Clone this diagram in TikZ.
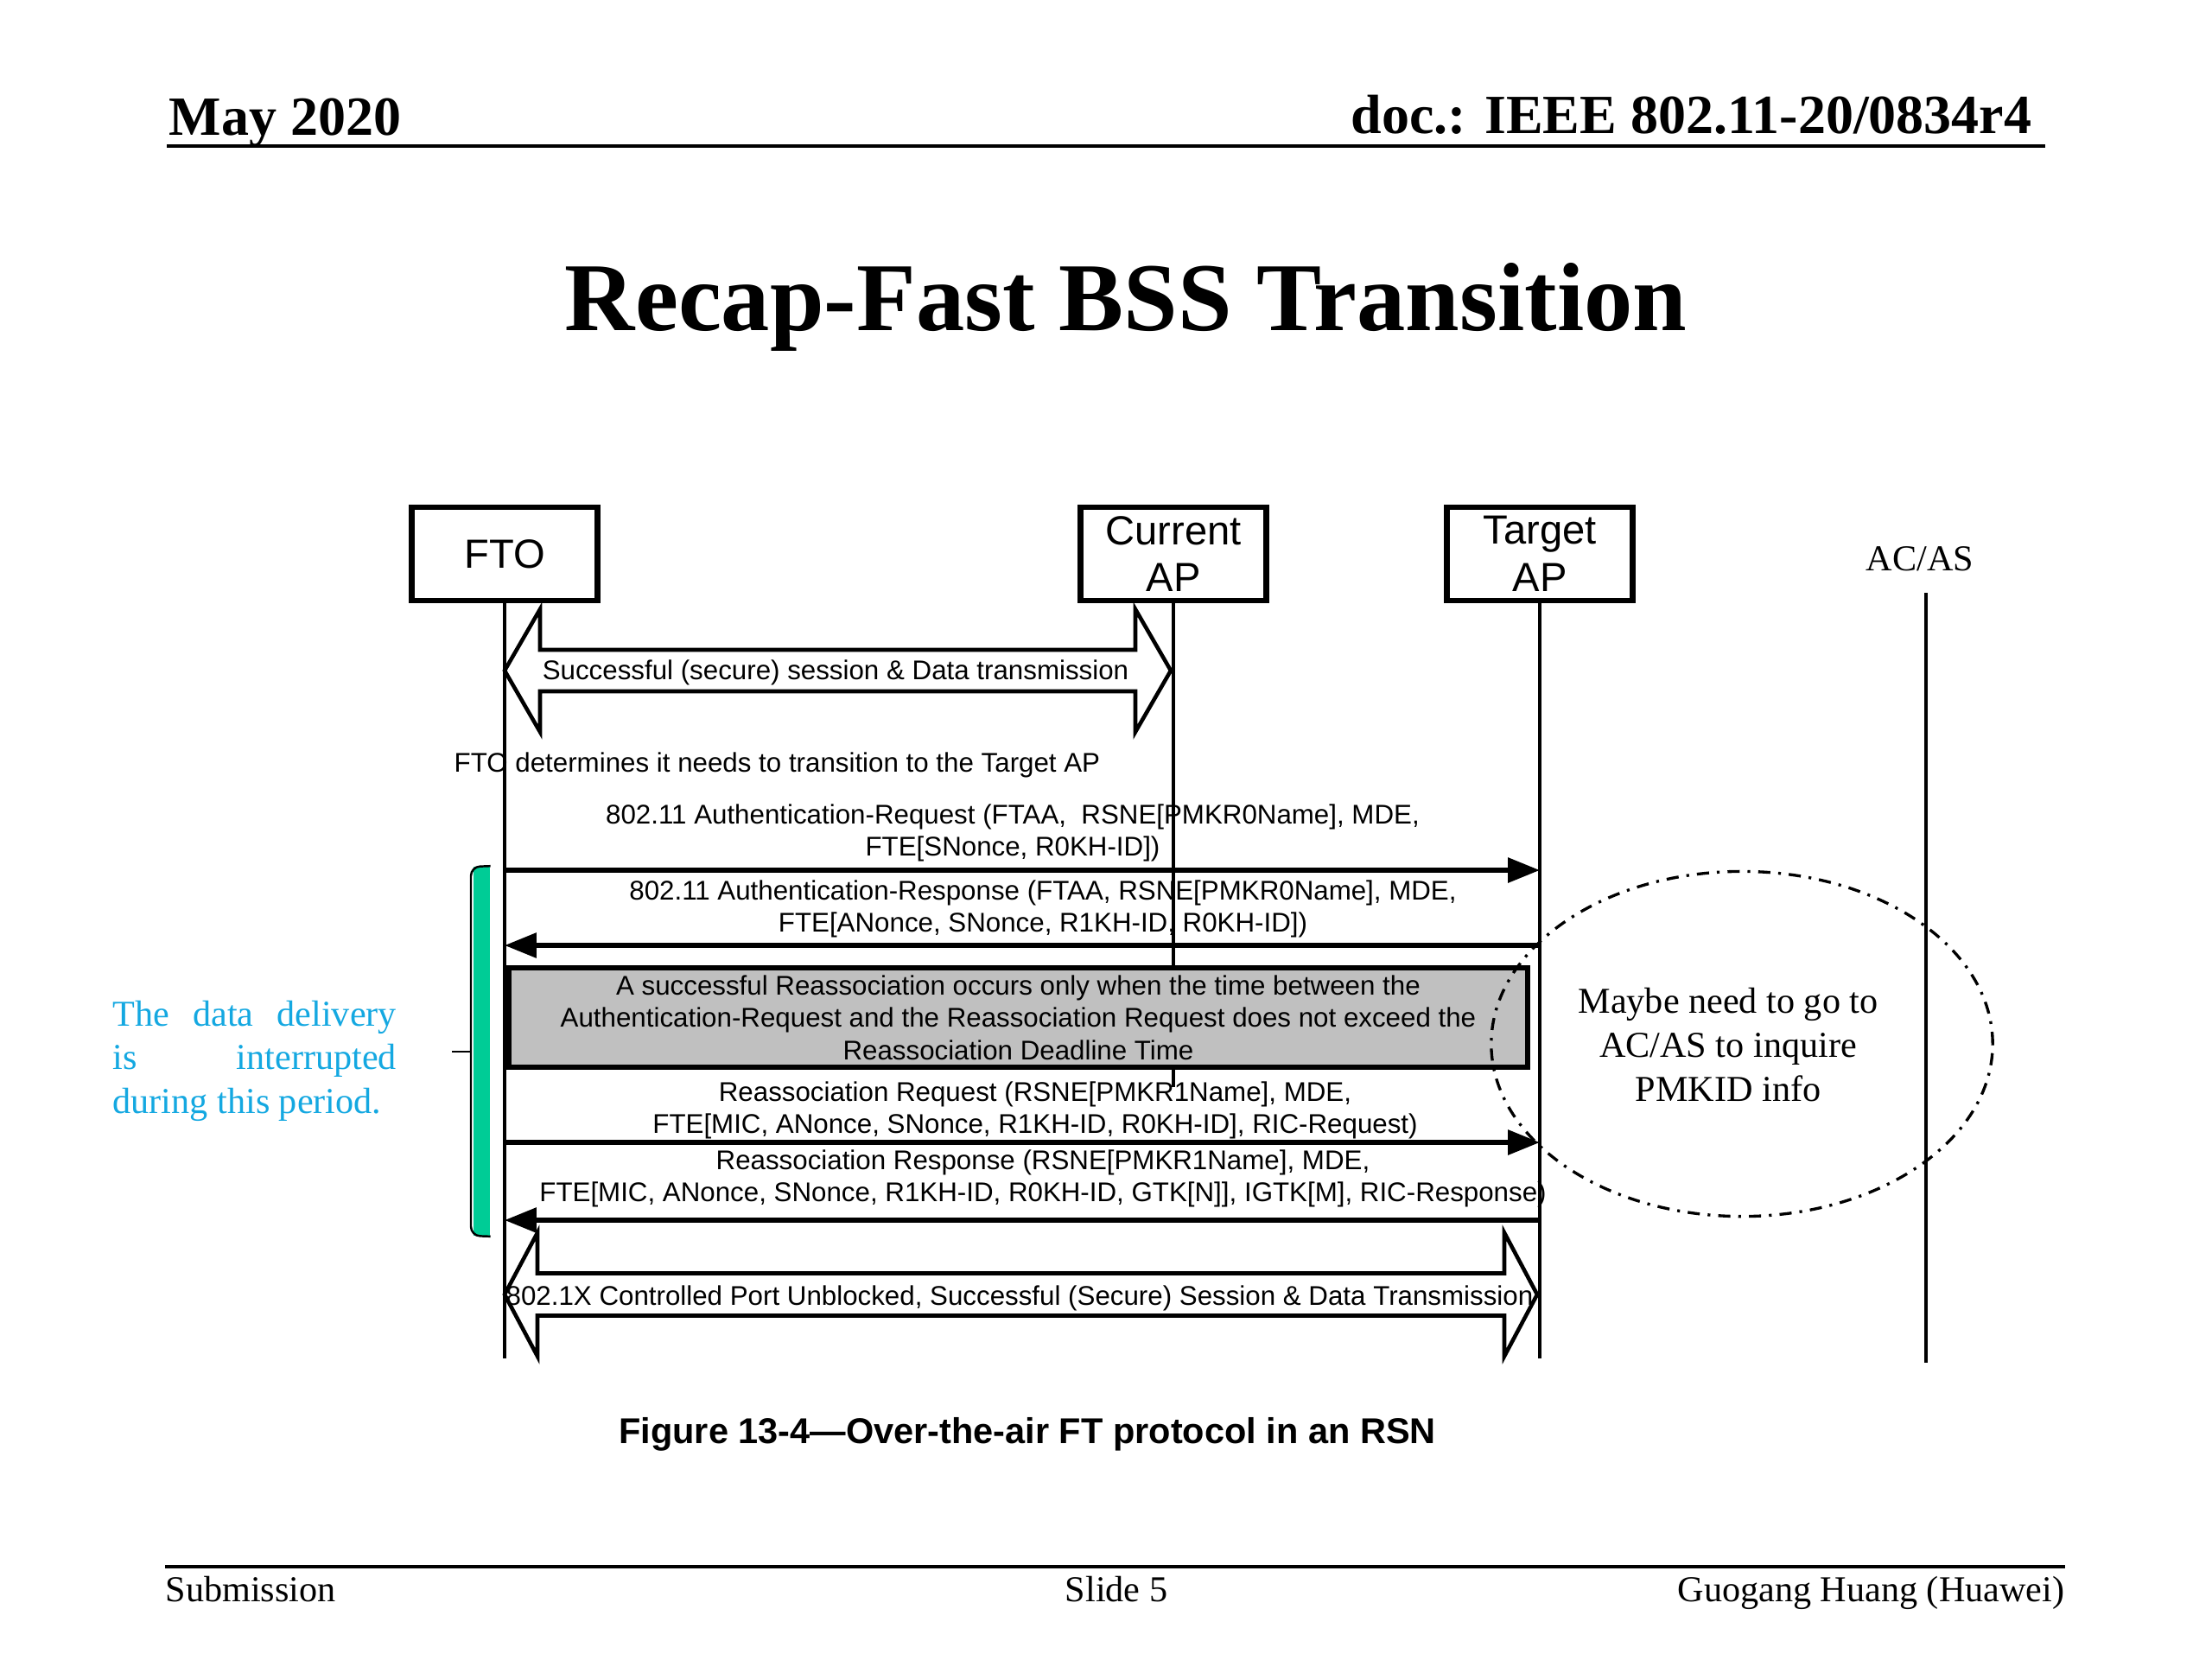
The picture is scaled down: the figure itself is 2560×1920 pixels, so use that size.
\documentclass[tikz,border=0pt]{standalone}
\usepackage{fontspec}
\setmainfont{Liberation Serif}
\newfontfamily\arialf{Liberation Sans}
\usetikzlibrary{arrows.meta,shapes.geometric,calc}
\definecolor{bluetxt}{RGB}{20,168,225}
\definecolor{barfill}{RGB}{0,204,150}
\definecolor{notegray}{RGB}{192,192,192}
\begin{document}
\begin{tikzpicture}[x=0.01cm,y=-0.01cm,
  actor/.style={draw,line width=1.8pt,minimum width=2.15cm,minimum height=1.08cm,inner sep=0pt,align=center,font=\arialf\fontsize{13.4}{15.6}\selectfont},
  life/.style={line width=1.4pt},
  msg/.style={line width=1.6pt,-{Triangle[length=10.5pt,width=8pt]}},
  msgtxt/.style={align=center,inner sep=0pt,font=\arialf\fontsize{8.9}{10.7}\selectfont},
  blockarr/.style={line width=1.3pt,line join=miter,miter limit=10},
  serif12/.style={inner sep=0pt,font=\fontsize{12}{14.4}\selectfont},
  dashdotline/.style={line width=0.95pt,dash pattern=on 4pt off 2.6pt on 0.9pt off 2.6pt}
]
\useasboundingbox (0,0) rectangle (2560,1920);
\fill[white] (0,0) rectangle (2560,1920);

% header
\node[anchor=base west,inner sep=0pt,font=\bfseries\fontsize{18.2}{20}\selectfont] (date) at (195,156) {May 2020};
\node[anchor=base east,inner sep=0pt,font=\bfseries\fontsize{18.2}{20}\selectfont] (doc) at (2352,154) {doc.: IEEE 802.11-20/0834r4};
\draw[line width=0.9pt] (193,169) -- (2367,169);

% title
\node[anchor=base,inner sep=0pt,font=\bfseries\fontsize{32}{36}\selectfont] (title) at (1303,382) {Recap-Fast BSS Transition};

% actors
\node[actor] (fto) at (584,641) {FTO};
\node[actor] (cur) at (1358,641) {Current\\AP};
\node[actor] (tap) at (1782,641) {Target\\AP};
\node[serif12,anchor=base] (acas) at (2222,660) {AC/AS};

% lifelines
\coordinate (ftoEnd) at (fto.south |- 0,1572);
\coordinate (curEnd) at (cur.south |- 0,1258);
\coordinate (tapEnd) at (tap.south |- 0,1572);
\coordinate (acasTop) at (2229,686);
\coordinate (acasEnd) at (2229,1577);
\draw[life] (fto.south) -- (ftoEnd);
\draw[life] (cur.south) -- (curEnd);
\draw[life] (tap.south) -- (tapEnd);
\draw[line width=1.1pt] (acasTop) -- (acasEnd);

% block arrow 1
\coordinate (s1L) at (fto.south |- 0,776);
\coordinate (s1R) at ($(cur.south |- 0,776)+(-3,0)$);
\draw[blockarr] (s1L) -- ($(s1L)+(41,-71)$) -- ($(s1L)+(41,-24)$) -- ($(s1R)+(-41,-24)$) -- ($(s1R)+(-41,-71)$) -- (s1R)
  -- ($(s1R)+(-41,71)$) -- ($(s1R)+(-41,24)$) -- ($(s1L)+(41,24)$) -- ($(s1L)+(41,71)$) -- cycle;
\node[msgtxt] (s1txt) at (967,778) {Successful (secure) session \& Data transmission};

% determine text
\node[msgtxt,anchor=base west] (det) at (525,893) {FTO determines it needs to transition to the Target AP};

% messages
\coordinate (F1) at (fto.south |- 0,1007);
\coordinate (T1) at (tap.south |- 0,1007);
\draw[msg] (F1) -- (T1);
\node[msgtxt] (m1txt) at (1172,964) {802.11 Authentication-Request (FTAA, \ RSNE[PMKR0Name], MDE,\\FTE[SNonce, R0KH-ID])};

\coordinate (F2) at (fto.south |- 0,1094);
\coordinate (T2) at (tap.south |- 0,1094);
\draw[msg] (T2) -- (F2);
\node[msgtxt] (m2txt) at (1207,1052) {802.11 Authentication-Response (FTAA, RSNE[PMKR0Name], MDE,\\FTE[ANonce, SNonce, R1KH-ID, R0KH-ID])};

% gray note
\node[msgtxt,draw,line width=1.7pt,fill=notegray,minimum width=11.79cm,minimum height=1.15cm] (note) at (1178.5,1177.5)
  {A successful Reassociation occurs only when the time between the\\Authentication-Request and the Reassociation Request does not exceed the\\Reassociation Deadline Time};

\coordinate (F3) at (fto.south |- 0,1322);
\coordinate (T3) at (tap.south |- 0,1322);
\draw[msg] (F3) -- (T3);
\node[msgtxt] (m3txt) at (1198,1285) {Reassociation Request (RSNE[PMKR1Name], MDE,\\FTE[MIC, ANonce, SNonce, R1KH-ID, R0KH-ID], RIC-Request)};

\coordinate (F4) at (fto.south |- 0,1412);
\coordinate (T4) at (tap.south |- 0,1412);
\draw[msg] (T4) -- (F4);
\node[msgtxt] (m4txt) at (1207,1364) {Reassociation Response (RSNE[PMKR1Name], MDE,\\FTE[MIC, ANonce, SNonce, R1KH-ID, R0KH-ID, GTK[N]], IGTK[M], RIC-Response)};

% block arrow 2
\coordinate (s2L) at (fto.south |- 0,1498);
\coordinate (s2R) at ($(tap.south |- 0,1498)+(-3,0)$);
\draw[blockarr] (s2L) -- ($(s2L)+(38,-71.5)$) -- ($(s2L)+(38,-24.5)$) -- ($(s2R)+(-38,-24.5)$) -- ($(s2R)+(-38,-71.5)$) -- (s2R)
  -- ($(s2R)+(-38,71.5)$) -- ($(s2R)+(-38,24.5)$) -- ($(s2L)+(38,24.5)$) -- ($(s2L)+(38,71.5)$) -- cycle;
\node[msgtxt] (s2txt) at (1180,1502) {802.1X Controlled Port Unblocked, Successful (Secure) Session \& Data Transmission};

% green bar with bracket
\node[fill=barfill,minimum width=0.19cm,minimum height=4.27cm,inner sep=0pt] (bar) at (557.5,1216.5) {};
\draw[line width=0.7pt,rounded corners=3pt] (bar.north east) -- (545,1003) -- (545,1430) -- (bar.south east);
\coordinate (tick) at (523,1217);
\draw[line width=0.7pt] (545,1217) -- (tick);

% blue note
\node[serif12,anchor=base west,text=bluetxt] (b1) at (130,1187) {\makebox[3.28cm][s]{The data delivery}};
\node[serif12,anchor=base west,text=bluetxt] (b2) at (130,1237) {\makebox[3.28cm][s]{is interrupted}};
\node[serif12,anchor=base west,text=bluetxt] (b3) at (130,1288) {during this period.};

% ellipse
\node[draw,ellipse,dashdotline,minimum width=5.8cm,minimum height=3.99cm,inner sep=0pt] (cloud) at (2016,1208) {};
\node[serif12,align=center] (cloudtxt) at (2000,1209) {Maybe need to go to\\AC/AS to inquire\\PMKID info};

% caption
\node[anchor=base,inner sep=0pt,font=\arialf\bfseries\fontsize{11.8}{14}\selectfont] (fig) at (1189,1670) {Figure 13-4—Over-the-air FT protocol in an RSN};

% footer
\draw[line width=1.1pt] (191,1813) -- (2390,1813);
\node[serif12,anchor=base west] (sub) at (191,1853) {Submission};
\node[serif12,anchor=base] (slide) at (1292,1853) {Slide 5};
\node[serif12,anchor=base east] (auth) at (2390,1853) {Guogang Huang (Huawei)};
\end{tikzpicture}
\end{document}
